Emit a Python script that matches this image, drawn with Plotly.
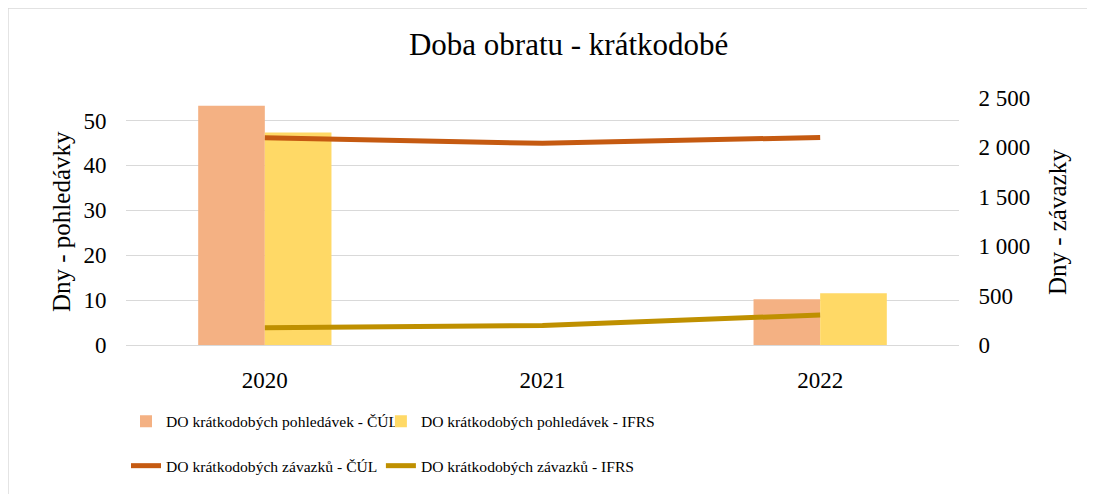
import plotly.graph_objects as go

years = ["2020", "2021", "2022"]
pohl_cul = [53.3, None, 10.2]
pohl_ifrs = [47.3, None, 11.5]
zav_cul = [2098, 2041, 2101]
zav_ifrs = [175, 197, 304]

left_ticks = [0, 10, 20, 30, 40, 50]
right_ticks = [0, 500, 1000, 1500, 2000, 2500]
right_labels = ["0", "500", "1 000", "1 500", "2 000", "2 500"]

FONT = "Liberation Serif, Times New Roman, serif"

fig = go.Figure()
fig.add_trace(go.Bar(x=years, y=pohl_cul, name="DO krátkodobých pohledávek - ČÚL", showlegend=True,
                     marker=dict(color="#F4B183", line=dict(width=0)), legend="legend"))
fig.add_trace(go.Bar(x=years, y=pohl_ifrs, name="DO krátkodobých pohledávek - IFRS", showlegend=True,
                     marker=dict(color="#FFD966", line=dict(width=0)), legend="legend2"))
fig.add_trace(go.Scatter(x=years, y=zav_cul, name="DO krátkodobých závazků - ČÚL", yaxis="y2", showlegend=True,
                         mode="lines", line=dict(color="#C55A11", width=5), legend="legend3"))
fig.add_trace(go.Scatter(x=years, y=zav_ifrs, name="DO krátkodobých závazků - IFRS", yaxis="y2", showlegend=True,
                         mode="lines", line=dict(color="#BF9000", width=5), legend="legend4"))

legend_common = dict(orientation="h", xanchor="left", yanchor="middle",
                     font=dict(family=FONT, size=15.6, color="#000"),
                     bgcolor="rgba(0,0,0,0)", itemwidth=30, visible=True)

row1, row2 = -0.31, -0.49
col1, col2 = 0.0, 0.306

fig.update_layout(
    width=1095, height=494, showlegend=True,
    paper_bgcolor="white", plot_bgcolor="white",
    margin=dict(l=118, r=144, t=90, b=157),
    font=dict(family=FONT, size=22, color="#000"),
    title=dict(text="Doba obratu - krátkodobé", x=0.512, xanchor="center", y=0.926, yanchor="middle",
               font=dict(family=FONT, size=31, color="#000")),
    barmode="group", bargap=0.52, bargroupgap=0,
    xaxis=dict(type="category", showgrid=False, showline=False, zeroline=False,
               ticks="outside", ticklen=14, tickcolor="rgba(0,0,0,0)",
               tickfont=dict(family=FONT, size=23, color="#000")),
    yaxis=dict(range=[0, 55], tickvals=left_ticks, showgrid=True, gridcolor="#D9D9D9", gridwidth=1.3,
               zeroline=True, zerolinecolor="#D9D9D9", zerolinewidth=1.3, showline=False,
               ticks="outside", ticklen=14, tickcolor="rgba(0,0,0,0)",
               tickfont=dict(family=FONT, size=23, color="#000")),
    yaxis2=dict(range=[0, 2500], tickvals=right_ticks, ticktext=right_labels, overlaying="y", side="right",
                showgrid=False, zeroline=False, showline=False,
                ticks="outside", ticklen=14, tickcolor="rgba(0,0,0,0)",
                tickfont=dict(family=FONT, size=23, color="#000")),
    legend=dict(x=col1, y=row1, **legend_common),
    legend2=dict(x=col2, y=row1, **legend_common),
    legend3=dict(x=col1, y=row2, **legend_common),
    legend4=dict(x=col2, y=row2, **legend_common),
    annotations=[
        dict(text="Dny - pohledávky", x=-0.0768, y=0.498, xref="paper", yref="paper",
             textangle=-90, showarrow=False, xanchor="center", yanchor="middle",
             font=dict(family=FONT, size=25, color="#000")),
        dict(text="Dny - závazky", x=1.119, y=0.498, xref="paper", yref="paper",
             textangle=-90, showarrow=False, xanchor="center", yanchor="middle",
             font=dict(family=FONT, size=25, color="#000")),
    ],
    shapes=[dict(type="rect", xref="paper", yref="paper", x0=-0.1417, y0=-0.66, x1=1.18, y1=1.364,
                 line=dict(color="#D9D9D9", width=1.5), fillcolor="rgba(0,0,0,0)", layer="below")],
)

fig.write_html("out.html")
